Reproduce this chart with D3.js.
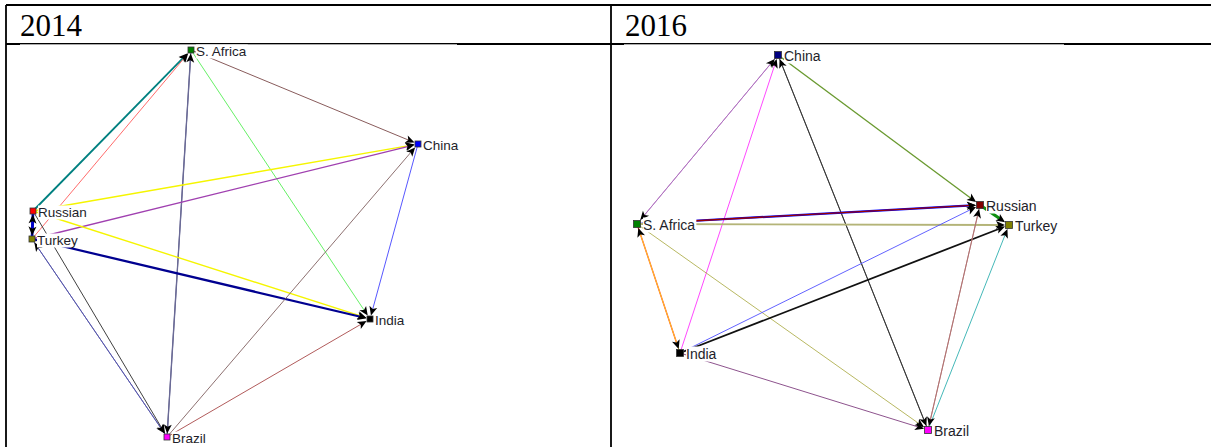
<!DOCTYPE html>
<html><head><meta charset="utf-8">
<script src="https://cdn.jsdelivr.net/npm/d3@7"></script>
<style>body{margin:0;background:#fff;overflow:hidden}</style>
</head><body>
<svg id="c" width="1211" height="447"></svg>
<script>
// ---------------- DATA ----------------
const panelTitles = ["2014", "2016"];

// network layout coordinates (layout units within each panel)
const nodes2014 = ["S. Africa", "China", "Russian", "Turkey", "India", "Brazil"];
const layoutX2014 = [185, 412, 27, 26, 364, 161];
const layoutY2014 = [6, 100, 167, 195, 275, 393];

const nodes2016 = ["China", "Russian", "Turkey", "S. Africa", "India", "Brazil"];
const layoutX2016 = [167, 369, 398, 26, 69, 317];
const layoutY2016 = [11, 161, 181, 180, 309, 386];

// ties: [source, target, strength]
const ties2014 = [
  ["Russian", "S. Africa", 2],
  ["Turkey", "S. Africa", 1],
  ["S. Africa", "Brazil", 1],
  ["Brazil", "S. Africa", 1.5],
  ["S. Africa", "China", 1],
  ["S. Africa", "India", 1],
  ["Russian", "China", 1.5],
  ["Turkey", "China", 1.5],
  ["Russian", "India", 1.5],
  ["Turkey", "India", 2.5],
  ["Brazil", "China", 1],
  ["Brazil", "India", 1],
  ["China", "India", 1],
  ["Turkey", "Brazil", 1],
  ["Brazil", "Turkey", 1],
  ["Russian", "Brazil", 1],
  ["Russian", "Turkey", 3],
  ["Turkey", "Russian", 3]
];
const ties2016 = [
  ["S. Africa", "China", 1],
  ["China", "S. Africa", 1],
  ["India", "China", 1],
  ["China", "Russian", 1.5],
  ["China", "Brazil", 1],
  ["Brazil", "China", 1],
  ["S. Africa", "Russian", 2.5],
  ["S. Africa", "Russian", 1.5],
  ["S. Africa", "Turkey", 2],
  ["S. Africa", "India", 1.5],
  ["India", "S. Africa", 1],
  ["S. Africa", "Brazil", 1],
  ["India", "Russian", 1],
  ["India", "Turkey", 2],
  ["India", "Brazil", 1],
  ["Russian", "Turkey", 3.5],
  ["Brazil", "Russian", 1],
  ["Russian", "Brazil", 1],
  ["Brazil", "Turkey", 1]
];

// ---------------- STYLES ----------------
const nodeColors2014 = {"S. Africa": "#008000", "China": "#0000ff", "Russian": "#ff0000", "Turkey": "#808000", "India": "#000000", "Brazil": "#ff00ff"};
const nodeColors2016 = {"China": "#000080", "Russian": "#800000", "Turkey": "#808000", "S. Africa": "#008000", "India": "#000000", "Brazil": "#ff00ff"};
const tieColors2014 = ["#008080", "#ff5a5a", "#3a3a70", "#6a6a96", "#7a4848", "#55ee55", "#f5f500", "#a040b0", "#f5f500", "#000090", "#806060", "#a84848", "#4444ff", "#5555aa", "#5555aa", "#2a2a2a", "#0000c8", "#0000c8"];
const tieColors2016 = ["#b070c0", "#b070c0", "#ff33ff", "#6a9a30", "#333333", "#333333", "#0000ff", "#990000", "#b4b478", "#ff4030", "#ffd020", "#b0b050", "#5050ff", "#111111", "#804080", "#10900f", "#b07070", "#b07070", "#30b0b0"];

const svg = d3.select("#c");
const W = 1211, H = 447;
const topY = 5, headY = 44, leftX = 6, divX = 611;

const widthScale = d3.scaleLinear().domain([1, 4]).range([0.9, 3.6]);
const labelFont = "'Liberation Sans Narrow', 'Arial Narrow', 'Liberation Sans', Arial, sans-serif";

const panels = [
  {title: panelTitles[0], names: nodes2014, lx: layoutX2014, ly: layoutY2014, ties: ties2014, tieColors: tieColors2014, nodeColors: nodeColors2014,
   x0: leftX, x1: divX, imgX0: 20, imgX1: 457, sq: 6, font: 13.5, lblDx: 5},
  {title: panelTitles[1], names: nodes2016, lx: layoutX2016, ly: layoutY2016, ties: ties2016, tieColors: tieColors2016, nodeColors: nodeColors2016,
   x0: divX, x1: W, imgX0: 624, imgX1: 1064, sq: 7, font: 14, lblDx: 6}
];

// table lines
svg.append("line").attr("x1", leftX).attr("x2", W).attr("y1", topY).attr("y2", topY).attr("stroke", "#000").attr("stroke-width", 1.8);
svg.append("line").attr("x1", leftX).attr("x2", W).attr("y1", headY).attr("y2", headY).attr("stroke", "#000").attr("stroke-width", 1.8);
svg.append("line").attr("x1", leftX).attr("x2", leftX).attr("y1", topY).attr("y2", H).attr("stroke", "#000").attr("stroke-width", 1.8);
svg.append("line").attr("x1", divX).attr("x2", divX).attr("y1", topY).attr("y2", H).attr("stroke", "#000").attr("stroke-width", 1.8);

panels.forEach(p => {
  // title
  svg.append("text").attr("x", p.x0 + 14).attr("y", 36)
    .attr("font-family", "'Liberation Serif', 'Times New Roman', serif").attr("font-size", 31)
    .attr("fill", "#000").text(p.title);

  // image area slightly overlapping header line
  svg.append("rect").attr("x", p.imgX0).attr("y", headY).attr("width", p.imgX1 - p.imgX0).attr("height", 0.9)
    .attr("fill", "#fff").attr("opacity", 0.75);

  const xs = d3.scaleLinear().domain([0, 600]).range([p.x0, p.x0 + 600]);
  const ys = d3.scaleLinear().domain([0, 400]).range([headY, headY + 400]);
  const pos = {};
  p.names.forEach((n, i) => pos[n] = {x: xs(p.lx[i]), y: ys(p.ly[i])});

  const g = svg.append("g");
  const half = p.sq / 2;
  const aLen = 9, aW = 4;

  const tieData = p.ties.map((t, i) => {
    const s = pos[t[0]], e = pos[t[1]];
    const dx = e.x - s.x, dy = e.y - s.y, L = Math.hypot(dx, dy);
    const ux = dx / L, uy = dy / L;
    const tOff = half / Math.max(Math.abs(ux), Math.abs(uy)) + 0.5;
    const tip = {x: e.x - ux * tOff, y: e.y - uy * tOff};
    return {s, e, ux, uy, tip, w: widthScale(t[2]), color: p.tieColors[i]};
  });

  g.selectAll("line.tie").data(tieData).enter().append("line")
    .attr("x1", d => d.s.x).attr("y1", d => d.s.y)
    .attr("x2", d => d.tip.x - d.ux * 4).attr("y2", d => d.tip.y - d.uy * 4)
    .attr("stroke", d => d.color).attr("stroke-width", d => d.w);

  g.selectAll("path.arrow").data(tieData).enter().append("path")
    .attr("d", d => {
      const bx = d.tip.x - d.ux * aLen, by = d.tip.y - d.uy * aLen;
      const nx = d.tip.x - d.ux * aLen * 0.75, ny = d.tip.y - d.uy * aLen * 0.75;
      const px = -d.uy, py = d.ux;
      return `M${d.tip.x},${d.tip.y}L${bx + px * aW},${by + py * aW}L${nx},${ny}L${bx - px * aW},${by - py * aW}Z`;
    })
    .attr("fill", "#000");

  // labels with white background
  const lg = g.append("g");
  p.names.forEach(n => {
    const q = pos[n];
    const t = lg.append("text").attr("x", q.x + p.lblDx).attr("y", q.y + 5.5)
      .attr("font-family", labelFont).attr("font-size", p.font)
      .attr("fill", "#1e1e2a").text(n);
    const bb = t.node().getBBox();
    lg.insert("rect", () => t.node()).attr("x", bb.x).attr("y", bb.y + 1).attr("width", bb.width + 1).attr("height", bb.height - 1)
      .attr("fill", "#fff");
  });

  // nodes
  g.selectAll("rect.node").data(p.names).enter().append("rect")
    .attr("x", n => pos[n].x - half).attr("y", n => pos[n].y - half)
    .attr("width", p.sq).attr("height", p.sq)
    .attr("fill", n => p.nodeColors[n]).attr("stroke", "#333").attr("stroke-width", 0.8);
});
</script>
</body></html>
